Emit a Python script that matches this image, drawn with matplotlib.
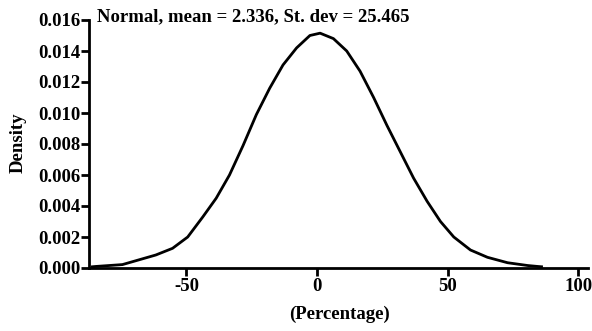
import matplotlib; matplotlib.use("Agg")
import matplotlib.pyplot as plt

# points
pct = [-86, -84.7, -74.5, -61.7, -55.3, -49.5, -43.7, -38.6, -33.5, -28.3, -23.2,
       -18.1, -13, -7.8, -2.7, 1.2, 6.3, 11.4, 16.5, 21.7, 26.8, 31.9, 37, 42.2,
       47.3, 52.4, 58.8, 65.3, 73, 80.7, 84.5, 86]
dens = [0.00008, 0.0001, 0.00022, 0.00084, 0.00127, 0.0020, 0.0033, 0.0045, 0.0060,
        0.0079, 0.0099, 0.0116, 0.0131, 0.0142, 0.0150, 0.01515, 0.0148, 0.0140,
        0.0127, 0.0110, 0.0092, 0.0075, 0.0058, 0.0043, 0.0030, 0.0020, 0.00116,
        0.00069, 0.00034, 0.00016, 0.0001, 0.00008]
xticks = [-50, 0, 50, 100]
yticks = [0.000, 0.002, 0.004, 0.006, 0.008, 0.010, 0.012, 0.014, 0.016]
title = "Normal, mean = 2.336, St. dev = 25.465"

plt.rcParams["font.family"] = ["Liberation Serif", "DejaVu Serif"]
plt.rcParams["font.weight"] = "bold"

fig = plt.figure(figsize=(5.92, 3.31), dpi=100)
ax = fig.add_axes([89/592, 1-268/331, (588-89)/592, (268-20)/331])
ax.plot(pct, dens, color="black", lw=2, solid_joinstyle="round")
ax.set_xlim(-87.3, 103.8); ax.set_ylim(0, 0.016)
ax.set_xticks(xticks); ax.set_xticklabels([str(v) for v in xticks])
ax.set_yticks(yticks); ax.set_yticklabels([f"{v:.3f}" for v in yticks])
for s in ["top", "right"]: ax.spines[s].set_visible(False)
for s in ["left", "bottom"]: ax.spines[s].set_linewidth(2)
ax.tick_params(width=2, length=5.5, labelsize=13.5, pad=0.5)
ax.tick_params(axis="x", pad=2)
for lab in ax.get_xticklabels() + ax.get_yticklabels(): lab.set_fontweight("bold")
fig.text(97/592, 1-17/331, title, fontsize=13.5, fontweight="bold", va="center", ha="left")
fig.text(18/592, 1-143/331, "Density", rotation=90, fontsize=13.5, fontweight="bold",
         ha="center", va="center")
fig.text(339/592, 1-314/331, "(Percentage)", fontsize=13.5, fontweight="bold",
         ha="center", va="center")
fig.savefig("out.png", dpi=100)
